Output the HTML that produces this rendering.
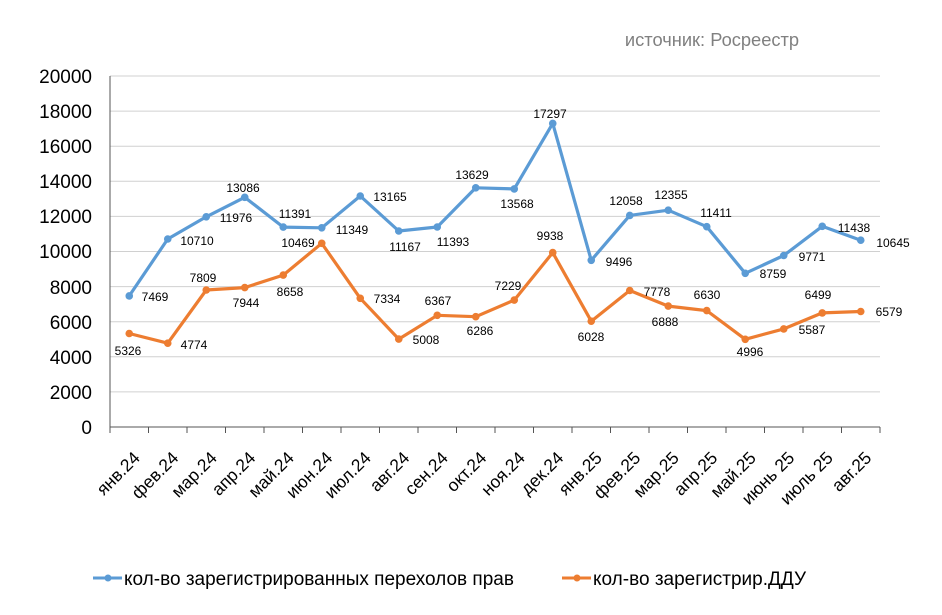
<!DOCTYPE html>
<html><head><meta charset="utf-8"><style>body{margin:0;background:#fff}svg{display:block}</style></head><body>
<svg width="942" height="615" xmlns="http://www.w3.org/2000/svg" font-family="Liberation Sans, DejaVu Sans, sans-serif">
<defs>
<marker id="mb" markerUnits="userSpaceOnUse" markerWidth="10" markerHeight="10" refX="5" refY="5"><circle cx="5" cy="5" r="3.8" fill="#5b9bd5"/></marker>
<marker id="mo" markerUnits="userSpaceOnUse" markerWidth="10" markerHeight="10" refX="5" refY="5"><circle cx="5" cy="5" r="3.8" fill="#ed7d31"/></marker>
</defs>
<rect width="942" height="615" fill="#fff"/>
<text x="712" y="46" text-anchor="middle" font-size="18.3" fill="#808080">источник: Росреестр</text>
<g stroke="#d0d0d0" stroke-width="1">
<line x1="110" x2="880" y1="391.9" y2="391.9"/><line x1="110" x2="880" y1="356.8" y2="356.8"/><line x1="110" x2="880" y1="321.7" y2="321.7"/><line x1="110" x2="880" y1="286.6" y2="286.6"/><line x1="110" x2="880" y1="251.5" y2="251.5"/><line x1="110" x2="880" y1="216.4" y2="216.4"/><line x1="110" x2="880" y1="181.3" y2="181.3"/><line x1="110" x2="880" y1="146.2" y2="146.2"/><line x1="110" x2="880" y1="111.1" y2="111.1"/><line x1="110" x2="880" y1="76" y2="76"/>
</g>
<g stroke="#555" stroke-width="1">
<line x1="110" x2="110" y1="76" y2="427"/><line x1="110" x2="880" y1="427" y2="427"/>
<path d="M110 427v6M148.5 427v6M187 427v6M225.5 427v6M264 427v6M302.5 427v6M341 427v6M379.5 427v6M418 427v6M456.5 427v6M495 427v6M533.5 427v6M572 427v6M610.5 427v6M649 427v6M687.5 427v6M726 427v6M764.5 427v6M803 427v6M841.5 427v6M880 427v6"/>
</g>
<g font-size="19" fill="#000" text-anchor="end">
<text x="92" y="434">0</text><text x="92" y="399">2000</text><text x="92" y="364">4000</text><text x="92" y="329">6000</text><text x="92" y="294">8000</text><text x="92" y="258">10000</text><text x="92" y="223">12000</text><text x="92" y="188">14000</text><text x="92" y="153">16000</text><text x="92" y="118">18000</text><text x="92" y="83">20000</text>
</g>
<g font-size="17.5" fill="#000" text-anchor="end">
<text transform="translate(141,459) rotate(-45)">янв.24</text>
<text transform="translate(179.5,459) rotate(-45)">фев.24</text>
<text transform="translate(218,459) rotate(-45)">мар.24</text>
<text transform="translate(256.5,459) rotate(-45)">апр.24</text>
<text transform="translate(295,459) rotate(-45)">май.24</text>
<text transform="translate(333.5,459) rotate(-45)">июн.24</text>
<text transform="translate(372,459) rotate(-45)">июл.24</text>
<text transform="translate(410.5,459) rotate(-45)">авг.24</text>
<text transform="translate(449,459) rotate(-45)">сен.24</text>
<text transform="translate(487.5,459) rotate(-45)">окт.24</text>
<text transform="translate(526,459) rotate(-45)">ноя.24</text>
<text transform="translate(564.5,459) rotate(-45)">дек.24</text>
<text transform="translate(603,459) rotate(-45)">янв.25</text>
<text transform="translate(641.5,459) rotate(-45)">фев.25</text>
<text transform="translate(680,459) rotate(-45)">мар.25</text>
<text transform="translate(718.5,459) rotate(-45)">апр.25</text>
<text transform="translate(757,459) rotate(-45)">май.25</text>
<text transform="translate(795.5,459) rotate(-45)">июнь 25</text>
<text transform="translate(834,459) rotate(-45)">июль 25</text>
<text transform="translate(872.5,459) rotate(-45)">авг.25</text>
</g>
<path d="M129.25 295.9L167.75 239L206.25 216.8L244.75 197.3L283.25 227.1L321.75 227.8L360.25 196L398.75 231L437.25 227L475.75 187.8L514.25 188.9L552.75 123.4L591.25 260.3L629.75 215.4L668.25 210.2L706.75 226.7L745.25 273.3L783.75 255.5L822.25 226.3L860.75 240.2" fill="none" stroke="#5b9bd5" stroke-width="3.2" stroke-linejoin="round" marker-start="url(#mb)" marker-mid="url(#mb)" marker-end="url(#mb)"/>
<path d="M129.25 333.5L167.75 343.2L206.25 290L244.75 287.6L283.25 275.1L321.75 243.3L360.25 298.3L398.75 339.1L437.25 315.3L475.75 316.7L514.25 300.1L552.75 252.6L591.25 321.2L629.75 290.5L668.25 306.1L706.75 310.6L745.25 339.3L783.75 328.9L822.25 312.9L860.75 311.5" fill="none" stroke="#ed7d31" stroke-width="3.2" stroke-linejoin="round" marker-start="url(#mo)" marker-mid="url(#mo)" marker-end="url(#mo)"/>
<g font-size="12" fill="#000" text-anchor="middle">
<text x="155" y="301">7469</text><text x="197" y="245">10710</text><text x="236" y="222">11976</text><text x="243" y="192">13086</text><text x="295" y="218">11391</text><text x="352" y="234">11349</text><text x="390" y="201">13165</text><text x="405" y="251">11167</text><text x="453" y="246">11393</text><text x="472" y="179">13629</text><text x="517" y="208">13568</text><text x="550" y="118">17297</text><text x="619" y="266">9496</text><text x="626" y="205">12058</text><text x="671" y="199">12355</text><text x="716" y="217">11411</text><text x="773" y="278">8759</text><text x="812" y="261">9771</text><text x="854" y="232">11438</text><text x="893" y="247">10645</text>
<text x="128" y="355">5326</text><text x="194" y="349">4774</text><text x="203" y="282">7809</text><text x="246" y="307">7944</text><text x="290" y="296">8658</text><text x="298" y="247">10469</text><text x="387" y="303">7334</text><text x="426" y="344">5008</text><text x="438" y="305">6367</text><text x="480" y="335">6286</text><text x="508" y="290">7229</text><text x="550" y="240">9938</text><text x="591" y="341">6028</text><text x="657" y="296">7778</text><text x="665" y="326">6888</text><text x="707" y="299">6630</text><text x="750" y="356">4996</text><text x="812" y="334">5587</text><text x="818" y="299">6499</text><text x="889" y="316">6579</text>
</g>
<g font-size="19" fill="#000">
<line x1="93" y1="578" x2="122" y2="578" stroke="#5b9bd5" stroke-width="3"/><circle cx="108" cy="578" r="3.5" fill="#5b9bd5"/>
<text x="124" y="585">кол-во зарегистрированных перехолов прав</text>
<line x1="562" y1="578" x2="591" y2="578" stroke="#ed7d31" stroke-width="3"/><circle cx="577" cy="578" r="3.5" fill="#ed7d31"/>
<text x="593" y="585">кол-во зарегистрир.ДДУ</text>
</g>
</svg>
</body></html>
